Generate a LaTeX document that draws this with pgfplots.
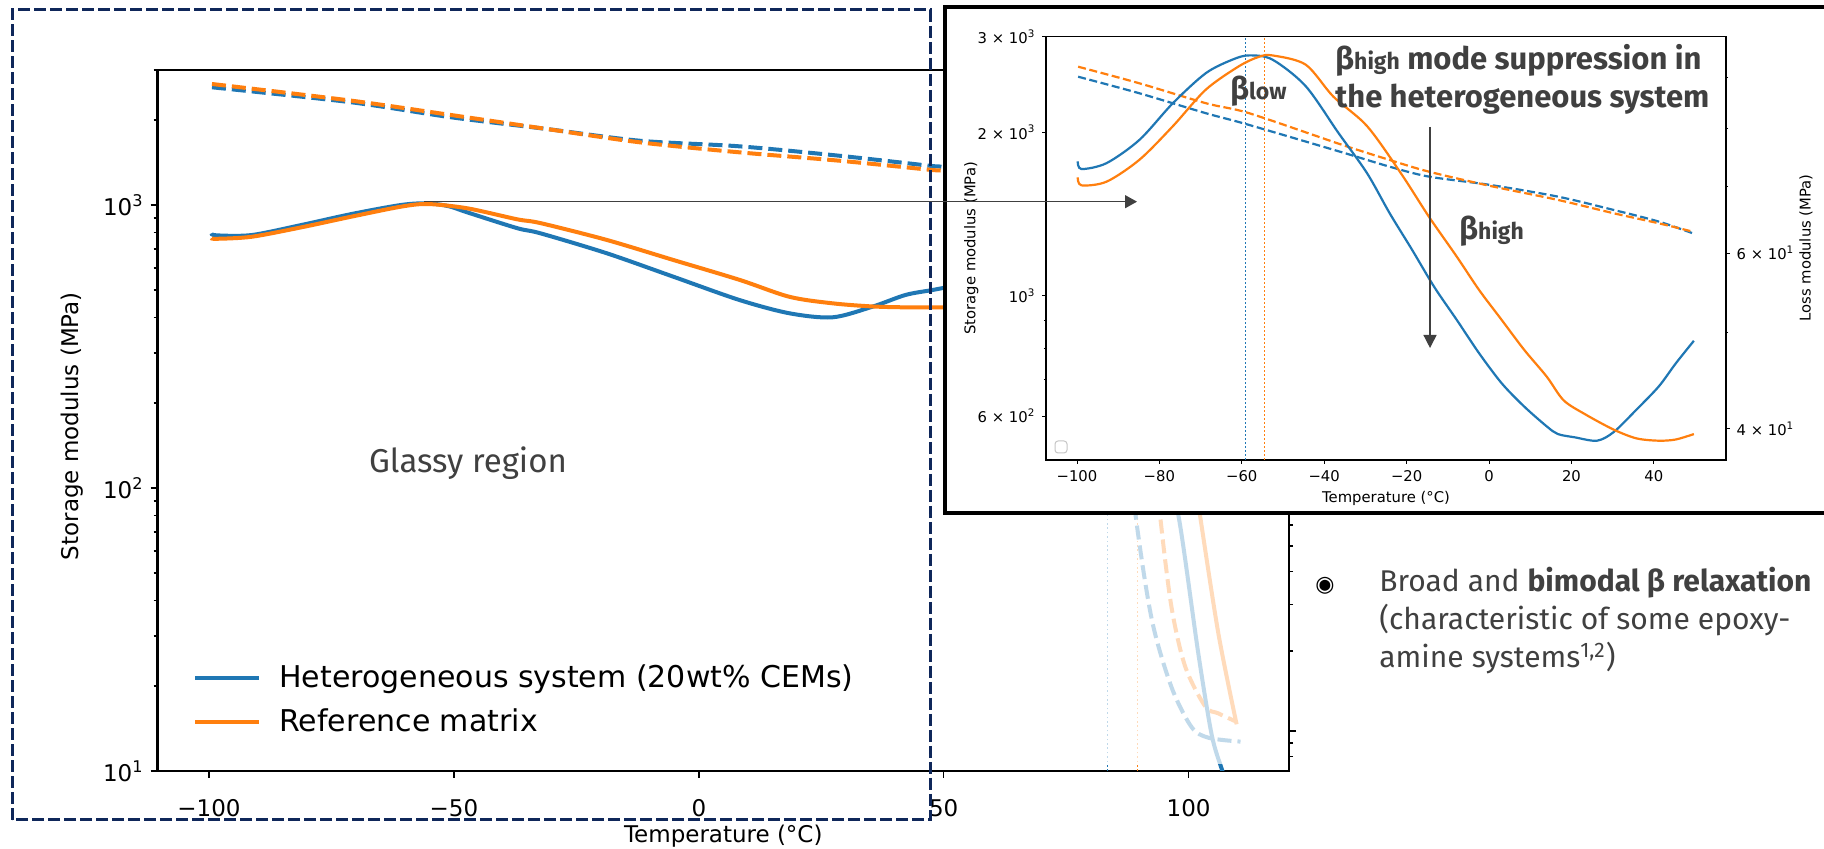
\documentclass[border=0pt]{standalone}
\usepackage{pgfplots}
\pgfplotsset{compat=1.18}
\usepackage{pgfplotstable}
\usepackage{fontspec}
\setmainfont{DejaVu Sans}
\newfontfamily\slide{Fira Sans}
\usetikzlibrary{arrows.meta}
\definecolor{tabblue}{HTML}{1F77B4}
\definecolor{taborange}{HTML}{FF7F0E}
\definecolor{txtgray}{HTML}{404040}
\definecolor{navybox}{HTML}{0F275A}

% ---------- main plot data ----------
\pgfplotstableread{
t v
-99.4 2606
-70.9 2306
-50.6 2042
-31 1856
-12 1687
8.3 1612
28.7 1493
47 1377
50 1360
60 1250
70 1130
78 900
83 500
86 250
89.2 79.4
92.5 34.2
96.5 19.8
100.6 14.3
104.1 13.1
110.6 12.7
}\mainSblue
\pgfplotstableread{
t v
-99.4 2677
-70.9 2337
-50.6 2080
-31 1856
-12 1665
8.3 1535
28.7 1434
47 1333
50 1320
60 1250
70 1170
80 1030
86 750
90 380
92.5 170
94.2 79.4
96.5 38
99.3 23.4
103.4 16.9
106 16.0
109.5 15.0
}\mainSorange
\pgfplotstableread{
t v
-99.5 75.5
-98.5 74.2
-91.3 74.4
-81.1 81.2
-70.9 89.3
-60.8 96.6
-55.3 98.0
-51 95.5
-47.2 90.5
-37.1 79.0
-32.3 75.5
-18.8 63.5
-5.2 51.8
8.3 42.3
18.5 37.7
27.3 36.4
35.4 39.9
42.2 44.2
47.6 46.1
50 47.0
55 50
60 54
65 57
70 58
75 55
80 45
85 33
90 20
95 10
98.0 6.38
102 1.95
104.7 0.97
106.7 0.725
107.5 0.66
}\mainLblue
\pgfplotstableread{
t v
-99.5 72.5
-98.5 72.0
-91.3 73.3
-81.1 79.6
-70.9 87.3
-60.8 95.2
-55.3 97.4
-47.2 93.8
-37.1 85.3
-32.3 82.5
-18.8 71.3
-5.2 59.9
8.3 50.4
18.5 43.5
27.3 41.1
35.4 40.0
42.2 39.7
47.6 39.7
50 39.7
55 40.5
60 43
70 50
80 57
88 55
94 38
98 20
100.5 11
102.4 6.38
106.1 2.32
109.8 1.06
}\mainLorange

% ---------- inset data ----------
\pgfplotstableread{
t v
-99.7 2531
-84.8 2359
-68.7 2168
-59 2071
-36 1840
-24.1 1728
-14.6 1657
0.4 1599
16.7 1522
30.3 1438
41.2 1369
49.4 1303
}\inSblue
\pgfplotstableread{
t v
-99.7 2641
-84.8 2461
-68.7 2262
-58.2 2168
-36 1900
-24.1 1778
-14.6 1692
0.4 1592
16.7 1501
30.3 1418
41.2 1359
49.4 1312
}\inSorange
\pgfplotstableread{
t v
-99.8 74.2
-98.9 72.9
-92.8 73.9
-84.8 78.0
-76.7 84.9
-68.7 91.0
-62.2 93.9
-58.2 94.8
-52.6 93.9
-44.5 88.3
-36.5 79.2
-29.6 72.2
-24.1 65.8
-18.7 60.5
-13.3 55.5
-7.8 51.4
-2.4 47.6
3.1 44.4
8.5 42.1
14.0 40.2
16.7 39.5
20.8 39.2
26.2 38.9
30.3 39.7
35.8 41.8
41.2 44.1
45.3 46.5
49.7 49.0
}\inLblue
\pgfplotstableread{
t v
-99.8 71.5
-98.9 70.2
-92.8 70.8
-84.8 74.5
-76.7 80.5
-68.7 87.6
-60.6 92.5
-55.8 94.5
-52.6 94.8
-44.5 92.8
-37.8 86.2
-29.6 80.5
-21.4 72.2
-14.6 65.3
-7.8 59.5
-2.4 55.1
3.1 51.4
8.5 48.0
14.0 45.1
18.1 42.7
23.5 41.3
30.3 39.9
35.8 39.1
41.2 38.9
45.3 39.0
49.7 39.5
}\inLorange

\begin{document}
\begin{tikzpicture}[x=0.5pt,y=0.5pt]
\useasboundingbox (0,0) rectangle (1824,849);
\fill[white] (0,0) rectangle (1824,849);

% ===== main plot, storage modulus (left axis) =====
\begin{axis}[at={(78.8pt,39pt)}, anchor=south west,
  scale only axis, width=565.7pt, height=350.5pt,
  xmin=-110.5, xmax=120.5, ymode=log, ymin=10, ymax=3000,
  tick align=outside,
  major tick length=3.5pt, minor tick length=2pt,
  every tick/.style={black, line width=0.75pt},
  axis line style={line width=1.3pt},
  ticklabel style={font=\fontsize{11.5}{13}\selectfont},
  xticklabel style={yshift=-7pt},
  xtick={-100,-50,0,50,100}, xticklabels={−100,−50,0,50,100},
  ytick={10,100,1000},
  yticklabels={10\textsuperscript{1},10\textsuperscript{2},10\textsuperscript{3}},
  minor ytick={20,30,40,50,60,70,80,90,200,300,400,500,600,700,800,900,2000,3000},
  xtick pos=bottom, ytick pos=left,
  xlabel={Temperature (°C)}, ylabel={Storage modulus (MPa)},
  every axis x label/.style={at={(axis description cs:0.5,-0.0927)},anchor=center,font=\fontsize{11.5}{13}\selectfont},
  every axis y label/.style={at={(axis description cs:-0.0757,0.492)},rotate=90,anchor=center,font=\fontsize{11.5}{13}\selectfont},
  legend style={at={(axis description cs:0.0313,0.1013)}, anchor=west,
    draw=none, fill=none, inner sep=0pt, row sep=9pt,
    font=\fontsize{15}{18}\selectfont, nodes={inner sep=0pt},
    /tikz/every odd column/.append style={column sep=9pt}},
  legend cell align=left,
  legend image code/.code={\draw[#1] (0pt,0pt) -- (32pt,0pt);},
]
\addplot[tabblue, line width=0.5pt, dash pattern=on 0.8pt off 1.4pt, forget plot] coordinates {(83.5,10) (83.5,3000)};
\addplot[taborange, line width=0.5pt, dash pattern=on 0.8pt off 1.4pt, forget plot] coordinates {(89.6,10) (89.6,3000)};
\addplot[tabblue, line width=2pt, dash pattern=on 7pt off 3pt, smooth, forget plot] table[x=t,y=v] {\mainSblue};
\addplot[taborange, line width=2pt, dash pattern=on 7pt off 3pt, smooth, forget plot] table[x=t,y=v] {\mainSorange};
\addlegendimage{tabblue, line width=2pt}
\addlegendentry{Heterogeneous system (20wt\% CEMs)}
\addlegendimage{taborange, line width=2pt}
\addlegendentry{Reference matrix}
\end{axis}

% ===== main plot, loss modulus (right axis) =====
\begin{axis}[at={(78.8pt,39pt)}, anchor=south west,
  scale only axis, width=565.7pt, height=350.5pt,
  xmin=-110.5, xmax=120.5, ymode=log, ymin=0.7064, ymax=312.2,
  tick align=outside,
  major tick length=3.5pt, minor tick length=2pt,
  every tick/.style={black, line width=0.75pt},
  axis line style={line width=1.3pt},
  axis x line=none, axis y line*=right,
  ytick={1,10,100}, yticklabels={},
  minor ytick={0.8,0.9,2,3,4,5,6,7,8,9,20,30,40,50,60,70,80,90,200,300},
]
\addplot[tabblue, line width=2pt, smooth] table[x=t,y=v] {\mainLblue};
\addplot[taborange, line width=2pt, smooth] table[x=t,y=v] {\mainLorange};
\end{axis}

% faded region below the inset
\fill[white, opacity=0.72] (932,85) rectangle (1284,335);

% dashed box around the glassy region
\draw[navybox, line width=1.5pt, dash pattern=on 6pt off 2pt] (12,29) rectangle (930,839);

\node[font=\slide\fontsize{16.5}{20}\selectfont, text=txtgray] at (468,386) {Glassy region};

% ===== inset =====
\fill[white] (944.5,336) rectangle (1834,842);
\draw[black, line width=2pt] (944.5,336) rectangle (1834,842);

\begin{axis}[at={(523pt,194.5pt)}, anchor=south west,
  scale only axis, width=340pt, height=211.65pt,
  xmin=-107.5, xmax=57.5, ymode=log, ymin=498, ymax=3000,
  tick align=outside,
  major tick length=1.8pt, minor tick length=1.1pt,
  every tick/.style={black, line width=0.4pt},
  axis line style={line width=0.6pt},
  ticklabel style={font=\fontsize{7.4}{9}\selectfont},
  xtick={-100,-80,-60,-40,-20,0,20,40},
  xticklabels={−100,−80,−60,−40,−20,0,20,40},
  ytick={600,1000,2000,3000},
  yticklabels={6 × 10\textsuperscript{2},10\textsuperscript{3},2 × 10\textsuperscript{3},3 × 10\textsuperscript{3}},
  minor ytick={700,800,900},
  xtick pos=bottom, ytick pos=left,
  xlabel={Temperature (°C)}, ylabel={Storage modulus (MPa)},
  every axis x label/.style={at={(axis description cs:0.5,-0.0898)},anchor=center,font=\fontsize{7.4}{9}\selectfont},
  every axis y label/.style={at={(axis description cs:-0.110,0.5)},rotate=90,anchor=center,font=\fontsize{7.4}{9}\selectfont},
]
\addplot[tabblue, line width=0.5pt, dash pattern=on 0.8pt off 1.2pt] coordinates {(-59.2,498) (-59.2,3000)};
\addplot[taborange, line width=0.5pt, dash pattern=on 0.8pt off 1.2pt] coordinates {(-54.6,498) (-54.6,3000)};
\addplot[tabblue, line width=1.1pt, dash pattern=on 4pt off 1.8pt, smooth] table[x=t,y=v] {\inSblue};
\addplot[taborange, line width=1.1pt, dash pattern=on 4pt off 1.8pt, smooth] table[x=t,y=v] {\inSorange};
\end{axis}
\begin{axis}[at={(523pt,194.5pt)}, anchor=south west,
  scale only axis, width=340pt, height=211.65pt,
  xmin=-107.5, xmax=57.5, ymode=log, ymin=37.2, ymax=99,
  tick align=outside,
  major tick length=1.8pt, minor tick length=1.1pt,
  every tick/.style={black, line width=0.4pt},
  axis line style={line width=0.6pt},
  ticklabel style={font=\fontsize{7.4}{9}\selectfont},
  axis x line=none, axis y line*=right,
  ytick={40,60},
  yticklabels={4 × 10\textsuperscript{1},6 × 10\textsuperscript{1}},
  minor ytick={50,70,80,90},
]
\addplot[tabblue, line width=1.1pt, smooth] table[x=t,y=v] {\inLblue};
\addplot[taborange, line width=1.1pt, smooth] table[x=t,y=v] {\inLorange};
\end{axis}
\node[rotate=90, font=\fontsize{7.4}{9}\selectfont] at (1806,601) {Loss modulus (MPa)};

% empty legend of the inset
\draw[gray!45, line width=0.5pt, rounded corners=1.5pt] (1055,396) rectangle (1067,408);

% inset annotations
\node[anchor=base west, font=\slide\bfseries\fontsize{15.5}{18}\selectfont, text=txtgray, inner sep=0pt] at (1335,779)
  {β{\fontsize{11.5}{13}\selectfont high} mode suppression in};
\node[anchor=base west, font=\slide\bfseries\fontsize{15.5}{18}\selectfont, text=txtgray, inner sep=0pt] at (1335,741)
  {the heterogeneous system};
\node[anchor=base west, font=\slide\bfseries\fontsize{15.5}{18}\selectfont, text=txtgray, inner sep=0pt] at (1230,749)
  {β{\fontsize{11.5}{13}\selectfont low}};
\node[anchor=base west, font=\slide\bfseries\fontsize{15.5}{18}\selectfont, text=txtgray, inner sep=0pt] at (1459,609)
  {β{\fontsize{11.5}{13}\selectfont high}};
\draw[txtgray, line width=0.7pt, -{Triangle[length=6.5pt,width=6.5pt]}] (1430,722) -- (1430,501);

% arrow from main peak to inset
\draw[txtgray, line width=0.7pt, -{Triangle[length=6pt,width=6.5pt]}] (424,647.3) -- (1137,647.3);

% bullet text
\node[font=\fontsize{11}{13}\selectfont, inner sep=0pt] at (1325,263) {◉};
\node[anchor=base west, font=\slide\fontsize{15}{18}\selectfont, text=txtgray, inner sep=0pt] at (1379,257)
  {Broad and \textbf{bimodal β relaxation}};
\node[anchor=base west, font=\slide\fontsize{15}{18}\selectfont, text=txtgray, inner sep=0pt] at (1379,219)
  {(characteristic of some epoxy-};
\node[anchor=base west, font=\slide\fontsize{15}{18}\selectfont, text=txtgray, inner sep=0pt] at (1379,181)
  {amine systems\textsuperscript{1,2})};
\end{tikzpicture}
\end{document}
